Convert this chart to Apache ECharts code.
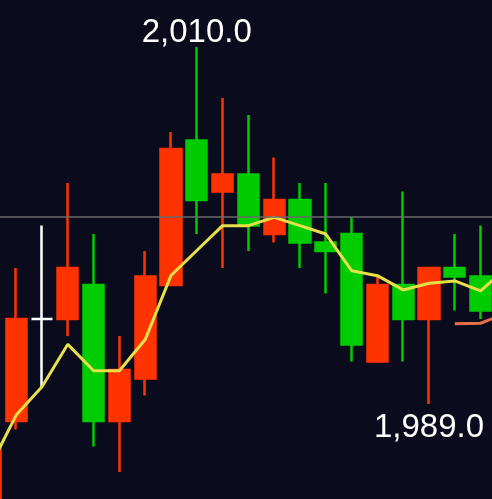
<!DOCTYPE html>
<html>
<head>
<meta charset="utf-8">
<script src="https://cdn.jsdelivr.net/npm/echarts@6/dist/echarts.min.js"></script>
<style>
  html, body { margin: 0; padding: 0; background: #0a0b1c; }
  #chart { width: 492px; height: 499px; }
</style>
</head>
<body>
<div id="chart"></div>
<script>
// categories (one per candle, last one only carries the line tails)
const categories = ['c0', 'c1', 'c2', 'c3', 'c4', 'c5', 'c6', 'c7', 'c8', 'c9', 'c10',
  'c11', 'c12', 'c13', 'c14', 'c15', 'c16', 'c17', 'c18', 'c19', 'c20']
// [open, close, low, high]
const opens  = [1981.5, 1988.0, 1994.0, 1994.0, 1996.0, 1988.0, 1990.5, 1996.0, 2004.5, 2001.5, 2002.5,
  1999.0, 2001.0, 1998.5, 1999.0, 1991.5, 1996.0, 1994.0, 1997.0, 1996.5]
const closes = [1986.5, 1994.0, 1994.0, 1997.0, 1988.0, 1991.0, 1996.5, 2004.0, 2001.0, 2002.5, 1999.5,
  2001.0, 1998.5, 1998.0, 1992.5, 1996.0, 1994.0, 1997.0, 1996.5, 1994.5]
const lows   = [1980.5, 1987.5, 1990.0, 1993.0, 1986.5, 1985.0, 1989.5, 1996.0, 1999.0, 1997.0, 1998.0,
  1998.5, 1997.0, 1995.5, 1991.5, 1991.5, 1991.5, 1989.0, 1994.5, 1994.0]
const highs  = [1987.0, 1997.0, 1999.5, 2002.0, 1999.0, 1993.0, 1998.0, 2005.0, 2010.0, 2007.0, 2006.0,
  2003.5, 2002.0, 2002.0, 2000.0, 1996.5, 2001.5, 1997.0, 1999.0, 1999.5]
const maLine = [1985.35, 1988.35, 1990.02, 1992.51, 1990.96, 1990.96, 1992.79, 1996.56, 1998.03, 1999.49, 1999.49,
  1999.98, 1999.49, 1999.0, 1996.84, 1996.55, 1995.71, 1996.1, 1996.24, 1995.65, 1997.0]
const maLine2 = ['-', '-', '-', '-', '-', '-', '-', '-', '-', '-', '-',
  '-', '-', '-', '-', '-', '-', '-', 1993.72, 1993.75, 1994.35]
const dojiIndex = 2
const priceLine = 2000
const highMark = { index: 8, value: 2010.0, text: '2,010.0' }
const lowMark = { index: 17, value: 1989.0, text: '1,989.0' }

const candles = opens.map((o, i) => {
  const item = { value: [o, closes[i], lows[i], highs[i]] }
  if (i === dojiIndex) {
    item.itemStyle = { color: '#ffffff', color0: '#ffffff', borderColor: '#ffffff', borderColor0: '#ffffff', borderColorDoji: '#ffffff' }
  }
  return item
})

const myChart = echarts.init(document.getElementById('chart'))
myChart.setOption({
  backgroundColor: '#0a0b1c',
  animation: false,
  // grid wider than the page so the first and last bars are cut off
  grid: { left: -22.5, top: 0, width: 541.8, height: 499, outerBoundsMode: 'none', containLabel: false },
  xAxis: {
    type: 'category',
    data: categories,
    show: false
  },
  yAxis: {
    type: 'value',
    min: 1983.412,
    max: 2012.765,
    show: false,
    splitLine: { show: false }
  },
  series: [
    {
      type: 'candlestick',
      data: candles,
      barWidth: '80%',
      itemStyle: {
        color: '#ff3300',
        color0: '#00cc00',
        borderColor: '#ff3300',
        borderColor0: '#00cc00',
        borderWidth: 2.5
      },
      markLine: {
        silent: true,
        symbol: 'none',
        label: { show: false },
        lineStyle: { color: '#6a6a6a', width: 1.5, type: 'solid' },
        data: [{ yAxis: priceLine }]
      },
      markPoint: {
        symbol: 'circle',
        symbolSize: 0,
        label: {
          show: true,
          color: '#ffffff',
          fontSize: 33,
          fontFamily: 'Liberation Sans, Arial, sans-serif'
        },
        data: [
          { coord: [highMark.index, highMark.value], label: { position: 'top', distance: -2, formatter: highMark.text } },
          { coord: [lowMark.index, lowMark.value], label: { position: 'bottom', distance: 7, formatter: lowMark.text } }
        ]
      }
    },
    {
      type: 'line',
      data: maLine,
      symbol: 'none',
      lineStyle: { color: '#e8e048', width: 3 }
    },
    {
      type: 'line',
      data: maLine2,
      symbol: 'none',
      lineStyle: { color: '#e8704a', width: 3 }
    }
  ]
})
</script>
</body>
</html>
